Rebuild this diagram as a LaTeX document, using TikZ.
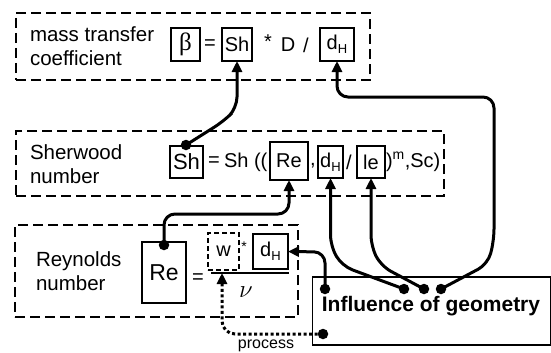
\documentclass[tikz,border=0pt]{standalone}
\usepackage{fontspec}
\setmainfont{Liberation Sans}
\newfontfamily\greekfont{Liberation Serif}
\usetikzlibrary{arrows.meta}

\newcommand{\dH}{d\raisebox{-0.35ex}{\fontsize{13}{13}\selectfont H}}

\begin{document}
\begin{tikzpicture}[x=1pt,y=-1pt,
  every node/.style={inner sep=0pt, outer sep=0pt},
  frame/.style={draw, line width=1.9pt, dash pattern=on 10pt off 5pt},
  term/.style={draw, line width=1.4pt},
  lbl/.style={font=\fontsize{20.5}{23.5}\selectfont, align=left, anchor=west},
  sym/.style={font=\fontsize{20}{20}\selectfont},
  link/.style={line width=3pt, rounded corners=11pt},
  tip/.style={-{Triangle[length=11pt,width=10pt]}},
  pin/.style={circle, fill, minimum size=10.5pt},
  dotted link/.style={line width=3pt, dash pattern=on 3pt off 2.5pt, rounded corners=13pt}]

\useasboundingbox[fill=white] (0,0) rectangle (551,353);

% ---------- mass transfer coefficient ----------
\node[frame, minimum width=354pt, minimum height=67pt] (mtc) at (193,46.5) {};
\node[lbl] (mtclbl) at (30,46) {mass transfer\\coefficient};
\node[term, minimum width=29pt, minimum height=33pt] (beta) at (185.5,44.5)
  {\greekfont\fontsize{25}{25}\selectfont β};
\node[sym] (eqa) at (210,45) {=};
\node[term, sym, minimum width=30pt, minimum height=33pt] (sh1) at (237,44.5) {Sh};
\node[sym] (star) at (268,42) {*};
\node[sym] (dd) at (288,45) {D};
\node[sym] (sla) at (306,45) {/};
\node[term, sym, minimum width=34pt, minimum height=33pt] (dh1) at (337,44.5) {\dH};

% ---------- Sherwood number ----------
\node[frame, minimum width=428pt, minimum height=65pt] (sher) at (230,163.5) {};
\node[lbl] (sherlbl) at (30,164) {Sherwood\\number};
\node[term, sym, font=\fontsize{22}{22}\selectfont, minimum width=33pt, minimum height=32pt] (sh2) at (186.5,162) {Sh};
\node[sym] (eqb) at (214,162) {=};
\node[sym, anchor=west] (shf) at (224,162) {Sh ((};
\node[term, sym, minimum width=38pt, minimum height=38pt] (re2) at (289,161) {Re};
\node[sym] (comma) at (313,166) {,};
\node[term, sym, minimum width=25pt, minimum height=32pt] (dh2) at (330.5,162) {\dH};
\node[sym] (slb) at (349,162) {/};
\node[term, sym, minimum width=28pt, minimum height=32pt] (le) at (371,162) {le};
\node[sym, anchor=west] (tail) at (386,162) {)\textsuperscript{m},Sc)};

% ---------- Reynolds number ----------
\node[frame, minimum width=283pt, minimum height=92pt] (rey) at (156.5,271) {};
\node[lbl] (reylbl) at (36,271) {Reynolds\\number};
\node[term, font=\fontsize{23}{23}\selectfont, minimum width=44pt, minimum height=61pt] (re3) at (164,272.5) {Re};
\node[sym] (eqc) at (198,279) {=};
\node[draw, line width=1.4pt, dash pattern=on 5pt off 3pt, sym, minimum width=31pt, minimum height=37pt] (w) at (223.5,251.5) {w};
\node[font=\fontsize{14}{14}\selectfont] (mul) at (244,247) {*};
\node[term, sym, minimum width=35pt, minimum height=35pt] (dh3) at (270.5,251.5) {\dH};
\coordinate (barL) at (211,273);
\coordinate (barR) at (289,273);
\coordinate (wfoot) at (222,273);
\draw[line width=1.4pt] (barL) -- (barR);
\node[font=\fontsize{24}{24}\selectfont] (nu) at (246,292) {$\nu$};

% ---------- influence of geometry ----------
\node[draw, line width=1.5pt, minimum width=238pt, minimum height=68pt] (geo) at (431.5,311) {};
\node[font=\bfseries\fontsize{21}{21}\selectfont] (geotxt) at (431,306) {Influence of geometry};
\node[font=\fontsize{16}{16}\selectfont] (proc) at (266,346) {process};

% connection points
\node[pin] (sh2dot) at (186,145) {};
\node[pin] (re3dot) at (164,245) {};
\node[pin] (gdh3) at (325,289) {};
\node[pin] (gdh2) at (404,289) {};
\node[pin] (gle) at (424,289) {};
\node[pin] (gdh1) at (441,289) {};
\node[pin] (gproc) at (323,334) {};

% ---------- connectors ----------
\draw[link, tip] (sh2dot.center) -- (224,121) -- (237,108) -- (sh1.south);
\draw[link, tip] (re3dot.center) -- (164,214) -- (289,214) -- (re2.south);
\draw[link, tip] (gdh2.center) -- (342,266) -- (330.5,246) -- (dh2.south);
\draw[link, tip] (gle.center) -- (381,266) -- (371,246) -- (le.south);
\draw[link, tip] (gdh1.center) -- (488,264) -- (494,240) -- (494,97) -- (337,97) -- (dh1.south);
\draw[link, tip] (gdh3.center) -- (325,252) -- (dh3.east);
\draw[dotted link, tip] (gproc.center) -- (222,334) -- (wfoot);

\end{tikzpicture}
\end{document}
